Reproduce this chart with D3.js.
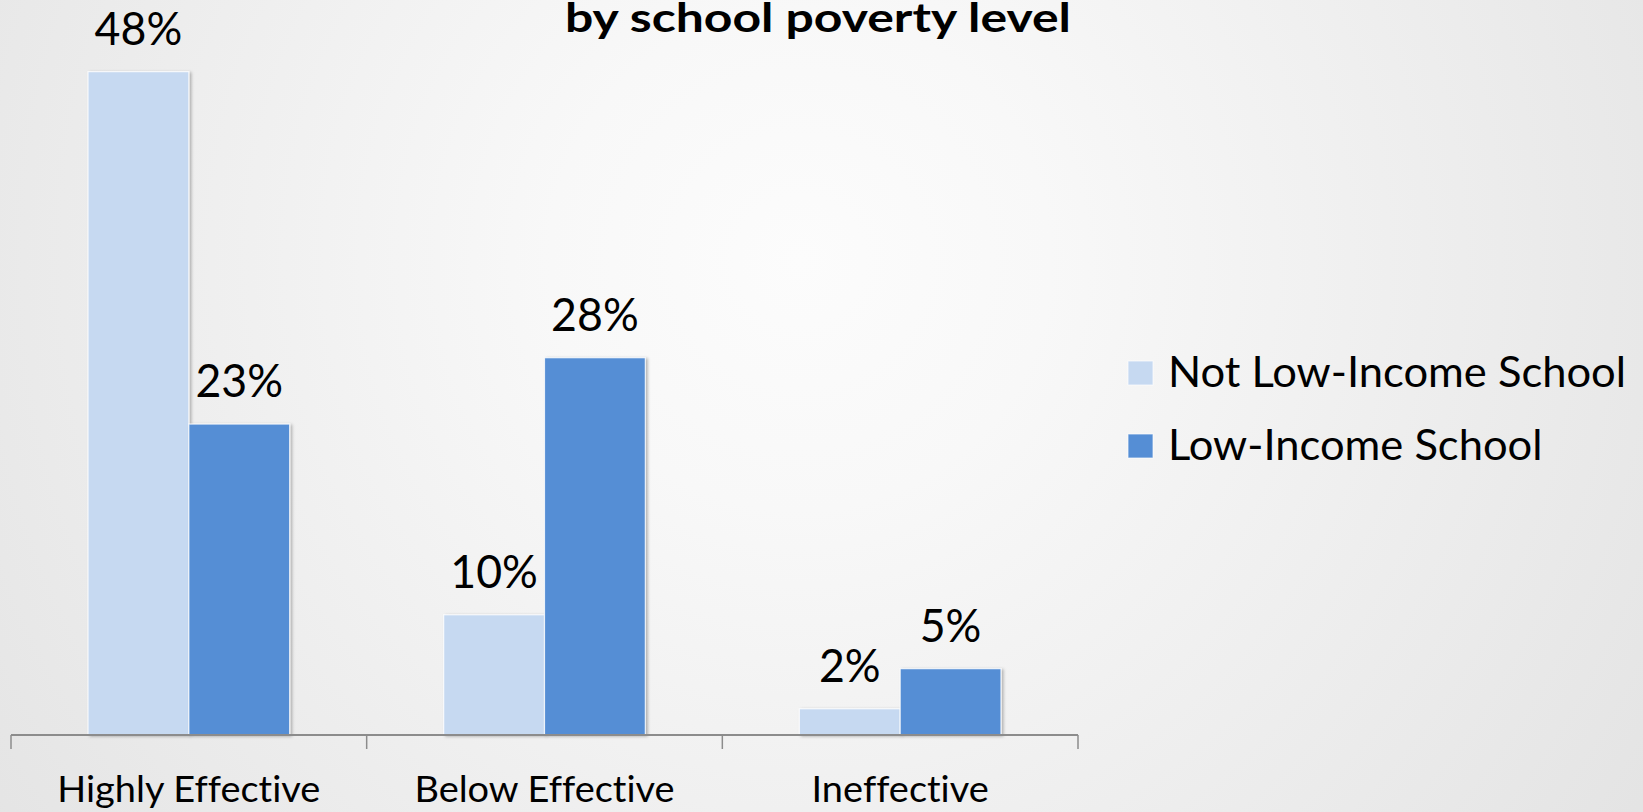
<!DOCTYPE html>
<html>
<head>
<meta charset="utf-8">
<script src="https://cdn.jsdelivr.net/npm/d3@7"></script>
<style>
  html, body { margin: 0; padding: 0; overflow: hidden; }
  svg { display: block; }
  text { font-variant-ligatures: none; font-feature-settings: "liga" 0, "clig" 0; }
</style>
</head>
<body>
<svg id="chart" width="1643" height="812"></svg>
<script>
// ---- data ----
const categories = ["Highly Effective", "Below Effective", "Ineffective"];
const seriesNames = ["Not Low-Income School", "Low-Income School"];
const notLowIncome = [48, 8.7, 1.9];        // bar heights (%)
const lowIncome = [22.5, 27.3, 4.8];
const notLowIncomeLabels = ["48%", "10%", "2%"];
const lowIncomeLabels = ["23%", "28%", "5%"];
const titleLine = "by school poverty level";

const colors = ["#C6D9F1", "#558ED5"];
const FONT = "Lato, 'Open Sans', sans-serif";

const W = 1643, H = 812;
const svg = d3.select("#chart");

// background radial gradient
const defs = svg.append("defs");
const grad = defs.append("radialGradient").attr("id", "bg")
  .attr("gradientUnits", "userSpaceOnUse")
  .attr("cx", 800).attr("cy", 260).attr("r", 1000);
grad.append("stop").attr("offset", "0").attr("stop-color", "#fcfcfc");
grad.append("stop").attr("offset", "0.25").attr("stop-color", "#f8f8f8");
grad.append("stop").attr("offset", "1").attr("stop-color", "#e4e4e4");
svg.append("rect").attr("width", W).attr("height", H).attr("fill", "url(#bg)");

const shadow = defs.append("filter").attr("id", "shadow")
  .attr("x", "-10%").attr("y", "-10%").attr("width", "130%").attr("height", "130%");
shadow.append("feDropShadow").attr("dx", 2).attr("dy", 1).attr("stdDeviation", 1.5)
  .attr("flood-color", "#000").attr("flood-opacity", 0.28);

// scales
const baseY = 735;
const x = d3.scaleBand().domain(categories).range([11, 1078]).padding(0);
const bw = x.bandwidth();
const barW = bw * 0.2835;
const x1 = d3.scaleBand().domain(seriesNames).range([bw / 2 - barW, bw / 2 + barW]).padding(0);
const y = d3.scaleLinear().domain([0, 50]).range([baseY, baseY - 50 * 13.82]);

const rows = categories.map((c, i) => ({
  cat: c,
  vals: [
    { s: seriesNames[0], v: notLowIncome[i], lab: notLowIncomeLabels[i], col: colors[0] },
    { s: seriesNames[1], v: lowIncome[i], lab: lowIncomeLabels[i], col: colors[1] }
  ]
}));

const groups = svg.append("g").selectAll("g").data(rows).join("g")
  .attr("transform", d => `translate(${x(d.cat)},0)`);

groups.selectAll("rect").data(d => d.vals).join("rect")
  .attr("x", d => x1(d.s))
  .attr("y", d => y(d.v))
  .attr("width", x1.bandwidth())
  .attr("height", d => baseY - y(d.v))
  .attr("fill", d => d.col)
  .attr("stroke", "#ffffff")
  .attr("stroke-opacity", 0.8)
  .attr("stroke-width", 1.2)
  .attr("filter", "url(#shadow)");

// data labels
const dl = groups.selectAll("text.dl").data(d => d.vals).join("text")
  .attr("class", "dl")
  .attr("x", d => x1(d.s) + x1.bandwidth() / 2)
  .attr("y", d => y(d.v) - 27)
  .attr("text-anchor", "middle")
  .attr("font-family", FONT)
  .attr("font-size", 47)
  .attr("fill", "#000")
  .text(d => d.lab);

// axis
const axisG = svg.append("g");
axisG.append("line")
  .attr("x1", x.range()[0]).attr("x2", x.range()[1])
  .attr("y1", baseY).attr("y2", baseY)
  .attr("stroke", "#8c8c8c").attr("stroke-width", 2);
const edges = categories.map(c => x(c)).concat([x.range()[1]]);
axisG.selectAll("line.tick").data(edges).join("line")
  .attr("class", "tick")
  .attr("x1", d => d).attr("x2", d => d)
  .attr("y1", baseY).attr("y2", baseY + 14)
  .attr("stroke", "#8c8c8c").attr("stroke-width", 1.5);

const catLabels = axisG.selectAll("text.cat").data(categories).join("text")
  .attr("class", "cat")
  .attr("x", d => x(d) + bw / 2)
  .attr("y", 802)
  .attr("text-anchor", "middle")
  .attr("font-family", FONT)
  .attr("font-size", 36)
  .attr("fill", "#000")
  .text(d => d);

// title
const title = svg.append("text")
  .attr("x", 818).attr("y", 32)
  .attr("text-anchor", "middle")
  .attr("font-family", FONT)
  .attr("font-weight", "bold")
  .attr("font-size", 41)
  .attr("fill", "#000")
  .text(titleLine);

// legend
const legend = svg.append("g");
const legItems = legend.selectAll("g").data(seriesNames).join("g")
  .attr("transform", (d, i) => `translate(1128, ${361 + i * 73})`);
legItems.append("rect")
  .attr("width", 25).attr("height", 24)
  .attr("fill", (d, i) => colors[i])
  .attr("stroke", "#ffffff").attr("stroke-opacity", 0.7).attr("stroke-width", 1);
const legTexts = legItems.append("text")
  .attr("x", 40).attr("y", 26)
  .attr("font-family", FONT)
  .attr("font-size", 43)
  .attr("fill", "#000")
  .text(d => d);

// compress fonts horizontally to match Calibri-like widths
function fit(sel, refText, refWidth) {
  let nat = null;
  sel.each(function(d) { if (this.textContent === refText) nat = this.getComputedTextLength(); });
  if (!nat) return;
  const k = refWidth / nat;
  sel.each(function() {
    const w = this.getComputedTextLength();
    d3.select(this).attr("textLength", w * k).attr("lengthAdjust", "spacingAndGlyphs");
  });
}
fit(dl, "10%", 87.6);
fit(catLabels, "Highly Effective", 263);
fit(title, titleLine, 506);
fit(legTexts, "Not Low-Income School", 458);
</script>
</body>
</html>
